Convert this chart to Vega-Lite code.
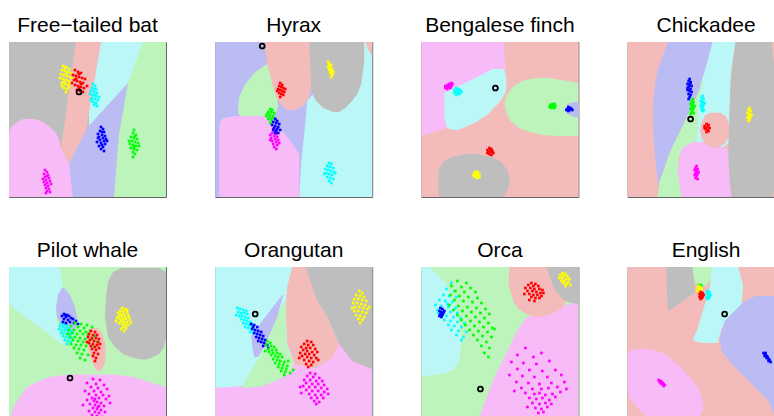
{
"$schema":"https://vega.github.io/schema/vega-lite/v6.json",
"padding":{"left":8,"top":14,"right":0,"bottom":0},
"background":"white",
"bounds":"flush",
"datasets":{"names":[{"p":1,"n":"Free−tailed bat"},{"p":2,"n":"Hyrax"},{"p":3,"n":"Bengalese finch"},{"p":4,"n":"Chickadee"},{"p":5,"n":"Pilot whale"},{"p":6,"n":"Orangutan"},{"p":7,"n":"Orca"},{"p":8,"n":"English"}]},
"data":{"values":[
{"p":1,"t":"b","c":"y"},{"p":2,"t":"b","c":"b"},{"p":3,"t":"b","c":"r"},{"p":4,"t":"b","c":"r"},{"p":5,"t":"b","c":"g"},{"p":6,"t":"b","c":"c"},{"p":7,"t":"b","c":"g"},{"p":8,"t":"b","c":"r"},
{"p":1,"r":"a","c":"c","y":0,"x":80,"x2":150},{"p":1,"r":"a","c":"c","y":100,"x":80,"x2":150},
{"p":1,"r":"b","c":"b","y":41,"x":119,"x2":130},{"p":1,"r":"b","c":"b","y":89,"x":75,"x2":130},{"p":1,"r":"b","c":"b","y":122,"x":58,"x2":130},{"p":1,"r":"b","c":"b","y":155,"x":58,"x2":130},
{"p":1,"r":"c","c":"r","y":0,"x":67,"x2":92},{"p":1,"r":"c","c":"r","y":41,"x":61,"x2":85},{"p":1,"r":"c","c":"r","y":89,"x":54.5,"x2":77},{"p":1,"r":"c","c":"r","y":106,"x":52,"x2":68},{"p":1,"r":"c","c":"r","y":122,"x":60,"x2":60},
{"p":1,"r":"d","c":"m","y":77,"x":14,"x2":26},{"p":1,"r":"d","c":"m","y":80,"x":8,"x2":34},{"p":1,"r":"d","c":"m","y":84,"x":3,"x2":40},{"p":1,"r":"d","c":"m","y":90,"x":0,"x2":46},{"p":1,"r":"d","c":"m","y":97,"x":0,"x2":50},{"p":1,"r":"d","c":"m","y":106,"x":0,"x2":52},{"p":1,"r":"d","c":"m","y":122,"x":0,"x2":60},{"p":1,"r":"d","c":"m","y":140,"x":0,"x2":62},{"p":1,"r":"d","c":"m","y":155,"x":0,"x2":64},
{"p":1,"r":"e","c":"g","y":0,"x":134,"x2":157},{"p":1,"r":"e","c":"g","y":41,"x":119,"x2":157},{"p":1,"r":"e","c":"g","y":92,"x":110,"x2":157},{"p":1,"r":"e","c":"g","y":155,"x":105,"x2":157},
{"p":2,"r":"a","c":"c","y":0,"x":140,"x2":157},{"p":2,"r":"a","c":"c","y":59,"x":92,"x2":157},{"p":2,"r":"a","c":"c","y":92,"x":89,"x2":157},{"p":2,"r":"a","c":"c","y":112,"x":86.7,"x2":157},{"p":2,"r":"a","c":"c","y":155,"x":84,"x2":157},
{"p":2,"r":"b","c":"y","y":0,"x":92,"x2":149},{"p":2,"r":"b","c":"y","y":20,"x":92,"x2":149},{"p":2,"r":"b","c":"y","y":42,"x":94,"x2":146},{"p":2,"r":"b","c":"y","y":52,"x":97,"x2":142},{"p":2,"r":"b","c":"y","y":59,"x":101,"x2":137},{"p":2,"r":"b","c":"y","y":66,"x":108,"x2":130},{"p":2,"r":"b","c":"y","y":70,"x":118,"x2":124},
{"p":2,"r":"c","c":"r","y":0,"x":150,"x2":157},{"p":2,"r":"c","c":"r","y":8,"x":153,"x2":157},{"p":2,"r":"c","c":"r","y":14,"x":157,"x2":157},
{"p":2,"r":"d","c":"g","y":22,"x":52,"x2":53},{"p":2,"r":"d","c":"g","y":30,"x":40,"x2":55},{"p":2,"r":"d","c":"g","y":42,"x":30,"x2":58},{"p":2,"r":"d","c":"g","y":55,"x":24,"x2":62},{"p":2,"r":"d","c":"g","y":65,"x":23,"x2":63},{"p":2,"r":"d","c":"g","y":72,"x":23,"x2":60},{"p":2,"r":"d","c":"g","y":76,"x":28,"x2":55},
{"p":2,"r":"e","c":"r","y":0,"x":49,"x2":94},{"p":2,"r":"e","c":"r","y":22,"x":52,"x2":95},{"p":2,"r":"e","c":"r","y":42,"x":57,"x2":96},{"p":2,"r":"e","c":"r","y":55,"x":61,"x2":94},{"p":2,"r":"e","c":"r","y":63,"x":66,"x2":89},{"p":2,"r":"e","c":"r","y":68,"x":72,"x2":80},
{"p":2,"r":"f","c":"m","y":74,"x":22,"x2":48},{"p":2,"r":"f","c":"m","y":75,"x":12,"x2":55},{"p":2,"r":"f","c":"m","y":77,"x":7,"x2":58},{"p":2,"r":"f","c":"m","y":81,"x":4.5,"x2":62},{"p":2,"r":"f","c":"m","y":90,"x":4,"x2":68},{"p":2,"r":"f","c":"m","y":100,"x":4,"x2":76},{"p":2,"r":"f","c":"m","y":112,"x":4,"x2":84},{"p":2,"r":"f","c":"m","y":155,"x":4,"x2":84},
{"p":3,"r":"a","c":"m","y":0,"x":0,"x2":82},{"p":3,"r":"a","c":"m","y":26,"x":0,"x2":84},{"p":3,"r":"a","c":"m","y":45,"x":0,"x2":75},{"p":3,"r":"a","c":"m","y":60,"x":0,"x2":60},{"p":3,"r":"a","c":"m","y":75,"x":0,"x2":40},{"p":3,"r":"a","c":"m","y":86,"x":0,"x2":25},{"p":3,"r":"a","c":"m","y":94,"x":0,"x2":0},
{"p":3,"r":"b","c":"c","y":27,"x":71,"x2":83},{"p":3,"r":"b","c":"c","y":36,"x":54,"x2":85},{"p":3,"r":"b","c":"c","y":46,"x":33,"x2":85},{"p":3,"r":"b","c":"c","y":51,"x":23,"x2":84},{"p":3,"r":"b","c":"c","y":59,"x":23,"x2":79},{"p":3,"r":"b","c":"c","y":72,"x":23,"x2":67},{"p":3,"r":"b","c":"c","y":80,"x":24,"x2":55},{"p":3,"r":"b","c":"c","y":86,"x":26,"x2":42},{"p":3,"r":"b","c":"c","y":88,"x":32,"x2":36},
{"p":3,"r":"c","c":"g","y":36,"x":115,"x2":128},{"p":3,"r":"c","c":"g","y":38,"x":104,"x2":140},{"p":3,"r":"c","c":"g","y":41,"x":97,"x2":157},{"p":3,"r":"c","c":"g","y":46,"x":90,"x2":157},{"p":3,"r":"c","c":"g","y":53,"x":85.5,"x2":157},{"p":3,"r":"c","c":"g","y":62,"x":83,"x2":157},{"p":3,"r":"c","c":"g","y":71,"x":85,"x2":157},{"p":3,"r":"c","c":"g","y":79,"x":89,"x2":157},{"p":3,"r":"c","c":"g","y":86,"x":98,"x2":157},{"p":3,"r":"c","c":"g","y":90,"x":108,"x2":157},{"p":3,"r":"c","c":"g","y":93,"x":122,"x2":157},{"p":3,"r":"c","c":"g","y":94,"x":135,"x2":157},
{"p":3,"r":"d","c":"b","y":60,"x":152,"x2":157},{"p":3,"r":"d","c":"b","y":62,"x":146,"x2":157},{"p":3,"r":"d","c":"b","y":67,"x":143,"x2":157},{"p":3,"r":"d","c":"b","y":72,"x":146,"x2":157},{"p":3,"r":"d","c":"b","y":75,"x":153,"x2":157},
{"p":3,"r":"e","c":"y","y":112,"x":45,"x2":55},{"p":3,"r":"e","c":"y","y":115,"x":30,"x2":70},{"p":3,"r":"e","c":"y","y":120,"x":22,"x2":80},{"p":3,"r":"e","c":"y","y":128,"x":17,"x2":86},{"p":3,"r":"e","c":"y","y":140,"x":17,"x2":89},{"p":3,"r":"e","c":"y","y":148,"x":17,"x2":86},{"p":3,"r":"e","c":"y","y":155,"x":18,"x2":82},
{"p":4,"r":"a","c":"b","y":0,"x":40.6,"x2":87.3},{"p":4,"r":"a","c":"b","y":26,"x":30.6,"x2":79},{"p":4,"r":"a","c":"b","y":39,"x":28,"x2":75.6},{"p":4,"r":"a","c":"b","y":59,"x":25.6,"x2":67.3},{"p":4,"r":"a","c":"b","y":86,"x":25.6,"x2":54},{"p":4,"r":"a","c":"b","y":116,"x":27.5,"x2":40.6},{"p":4,"r":"a","c":"b","y":139,"x":30,"x2":32.3},{"p":4,"r":"a","c":"b","y":145,"x":31,"x2":31},
{"p":4,"r":"b","c":"c","y":0,"x":85,"x2":108},{"p":4,"r":"b","c":"c","y":26,"x":78,"x2":104},{"p":4,"r":"b","c":"c","y":39,"x":74,"x2":103},{"p":4,"r":"b","c":"c","y":59,"x":69,"x2":102.3},{"p":4,"r":"b","c":"c","y":100,"x":68,"x2":102},{"p":4,"r":"b","c":"c","y":110,"x":68,"x2":90},
{"p":4,"r":"c","c":"g","y":39,"x":75,"x2":76},{"p":4,"r":"c","c":"g","y":59,"x":67,"x2":71},{"p":4,"r":"c","c":"g","y":86,"x":54,"x2":70},{"p":4,"r":"c","c":"g","y":100,"x":47,"x2":69},{"p":4,"r":"c","c":"g","y":109,"x":43,"x2":54},{"p":4,"r":"c","c":"g","y":116,"x":40,"x2":51},{"p":4,"r":"c","c":"g","y":126,"x":37,"x2":51},{"p":4,"r":"c","c":"g","y":139,"x":32,"x2":52},{"p":4,"r":"c","c":"g","y":155,"x":30,"x2":54},
{"p":4,"r":"d","c":"m","y":100,"x":65,"x2":80},{"p":4,"r":"d","c":"m","y":105,"x":56,"x2":95},{"p":4,"r":"d","c":"m","y":110,"x":53,"x2":102},{"p":4,"r":"d","c":"m","y":130,"x":50,"x2":103},{"p":4,"r":"d","c":"m","y":155,"x":54,"x2":104},
{"p":4,"r":"e","c":"r","y":70.7,"x":82,"x2":93},{"p":4,"r":"e","c":"r","y":74,"x":77,"x2":98},{"p":4,"r":"e","c":"r","y":80,"x":74,"x2":101},{"p":4,"r":"e","c":"r","y":88,"x":72.3,"x2":102.3},{"p":4,"r":"e","c":"r","y":96,"x":74,"x2":101},{"p":4,"r":"e","c":"r","y":102,"x":78,"x2":97},{"p":4,"r":"e","c":"r","y":105.7,"x":84,"x2":90},
{"p":4,"r":"f","c":"y","y":0,"x":108,"x2":144},{"p":4,"r":"f","c":"y","y":20,"x":105,"x2":146},{"p":4,"r":"f","c":"y","y":40,"x":103,"x2":150},{"p":4,"r":"f","c":"y","y":59,"x":102.3,"x2":152},{"p":4,"r":"f","c":"y","y":109,"x":100.6,"x2":152},{"p":4,"r":"f","c":"y","y":140,"x":102,"x2":148},{"p":4,"r":"f","c":"y","y":155,"x":104,"x2":145},
{"p":5,"r":"a","c":"c","y":0,"x":0,"x2":50.3},{"p":5,"r":"a","c":"c","y":20,"x":0,"x2":54},{"p":5,"r":"a","c":"c","y":37,"x":0,"x2":48},{"p":5,"r":"a","c":"c","y":45,"x":10,"x2":47},{"p":5,"r":"a","c":"c","y":57,"x":26,"x2":48},{"p":5,"r":"a","c":"c","y":68,"x":41,"x2":52},{"p":5,"r":"a","c":"c","y":79,"x":55,"x2":56},
{"p":5,"r":"b","c":"b","y":20.7,"x":53,"x2":55},{"p":5,"r":"b","c":"b","y":28,"x":49,"x2":61},{"p":5,"r":"b","c":"b","y":40,"x":47,"x2":66},{"p":5,"r":"b","c":"b","y":50,"x":48,"x2":68},{"p":5,"r":"b","c":"b","y":58,"x":52,"x2":68},{"p":5,"r":"b","c":"b","y":65,"x":58,"x2":65},{"p":5,"r":"b","c":"b","y":68,"x":62,"x2":63},
{"p":5,"r":"c","c":"r","y":61,"x":82,"x2":88},{"p":5,"r":"c","c":"r","y":66,"x":79,"x2":93},{"p":5,"r":"c","c":"r","y":75,"x":78,"x2":96},{"p":5,"r":"c","c":"r","y":85,"x":80,"x2":97},{"p":5,"r":"c","c":"r","y":95,"x":83,"x2":96},{"p":5,"r":"c","c":"r","y":101,"x":86,"x2":94},{"p":5,"r":"c","c":"r","y":104,"x":89,"x2":91},
{"p":5,"r":"d","c":"y","y":1,"x":112,"x2":150},{"p":5,"r":"d","c":"y","y":5,"x":104,"x2":157},{"p":5,"r":"d","c":"y","y":15,"x":99,"x2":157},{"p":5,"r":"d","c":"y","y":30,"x":97,"x2":157},{"p":5,"r":"d","c":"y","y":50,"x":96,"x2":157},{"p":5,"r":"d","c":"y","y":70,"x":99,"x2":157},{"p":5,"r":"d","c":"y","y":80,"x":106,"x2":155},{"p":5,"r":"d","c":"y","y":87,"x":114,"x2":150},{"p":5,"r":"d","c":"y","y":91,"x":125,"x2":142},{"p":5,"r":"d","c":"y","y":92.5,"x":132,"x2":136},
{"p":5,"r":"e","c":"m","y":107.5,"x":60,"x2":105},{"p":5,"r":"e","c":"m","y":110,"x":40,"x2":125},{"p":5,"r":"e","c":"m","y":114,"x":30,"x2":137},{"p":5,"r":"e","c":"m","y":120,"x":18,"x2":157},{"p":5,"r":"e","c":"m","y":131,"x":10,"x2":157},{"p":5,"r":"e","c":"m","y":141,"x":4,"x2":157},{"p":5,"r":"e","c":"m","y":155,"x":0,"x2":157},
{"p":6,"r":"a","c":"m","y":75,"x":118,"x2":157},{"p":6,"r":"a","c":"m","y":100,"x":72,"x2":157},{"p":6,"r":"a","c":"m","y":112,"x":45,"x2":157},{"p":6,"r":"a","c":"m","y":119,"x":27,"x2":157},{"p":6,"r":"a","c":"m","y":121,"x":0,"x2":157},{"p":6,"r":"a","c":"m","y":155,"x":0,"x2":157},
{"p":6,"r":"b","c":"g","y":33,"x":70,"x2":71},{"p":6,"r":"b","c":"g","y":50,"x":61,"x2":72},{"p":6,"r":"b","c":"g","y":67,"x":55,"x2":71},{"p":6,"r":"b","c":"g","y":81,"x":50,"x2":72},{"p":6,"r":"b","c":"g","y":97,"x":40,"x2":79},{"p":6,"r":"b","c":"g","y":105,"x":35,"x2":75},{"p":6,"r":"b","c":"g","y":112,"x":31,"x2":65},{"p":6,"r":"b","c":"g","y":119,"x":28,"x2":48},{"p":6,"r":"b","c":"g","y":121,"x":27,"x2":30},
{"p":6,"r":"c","c":"b","y":28,"x":67,"x2":68},{"p":6,"r":"c","c":"b","y":50,"x":50,"x2":62},{"p":6,"r":"c","c":"b","y":69,"x":36,"x2":54},{"p":6,"r":"c","c":"b","y":80,"x":37,"x2":49},{"p":6,"r":"c","c":"b","y":90,"x":39,"x2":43},
{"p":6,"r":"d","c":"r","y":0,"x":77,"x2":91},{"p":6,"r":"d","c":"r","y":20,"x":72,"x2":98},{"p":6,"r":"d","c":"r","y":31,"x":71,"x2":101},{"p":6,"r":"d","c":"r","y":54,"x":71,"x2":114},{"p":6,"r":"d","c":"r","y":77,"x":72,"x2":124},{"p":6,"r":"d","c":"r","y":91,"x":77,"x2":117},{"p":6,"r":"d","c":"r","y":97,"x":79,"x2":107},{"p":6,"r":"d","c":"r","y":101,"x":95,"x2":100},
{"p":6,"r":"e","c":"y","y":0,"x":90.7,"x2":157},{"p":6,"r":"e","c":"y","y":31,"x":100.7,"x2":157},{"p":6,"r":"e","c":"y","y":54,"x":114,"x2":157},{"p":6,"r":"e","c":"y","y":77,"x":124,"x2":157},{"p":6,"r":"e","c":"y","y":94,"x":137,"x2":157},{"p":6,"r":"e","c":"y","y":102.3,"x":157,"x2":157},
{"p":7,"r":"a","c":"c","y":0,"x":0,"x2":8.3},{"p":7,"r":"a","c":"c","y":17,"x":0,"x2":25},{"p":7,"r":"a","c":"c","y":41,"x":0,"x2":35},{"p":7,"r":"a","c":"c","y":71,"x":0,"x2":40},{"p":7,"r":"a","c":"c","y":94,"x":0,"x2":38},{"p":7,"r":"a","c":"c","y":102,"x":0,"x2":33},{"p":7,"r":"a","c":"c","y":106,"x":0,"x2":25},{"p":7,"r":"a","c":"c","y":108,"x":0,"x2":12},{"p":7,"r":"a","c":"c","y":109,"x":0,"x2":3},
{"p":7,"r":"b","c":"m","y":35,"x":155,"x2":157},{"p":7,"r":"b","c":"m","y":42,"x":130,"x2":157},{"p":7,"r":"b","c":"m","y":50,"x":105,"x2":157},{"p":7,"r":"b","c":"m","y":65,"x":95,"x2":157},{"p":7,"r":"b","c":"m","y":80,"x":88,"x2":157},{"p":7,"r":"b","c":"m","y":110,"x":73,"x2":157},{"p":7,"r":"b","c":"m","y":150,"x":58,"x2":157},{"p":7,"r":"b","c":"m","y":155,"x":57,"x2":157},
{"p":7,"r":"c","c":"r","y":0,"x":88,"x2":126},{"p":7,"r":"c","c":"r","y":17,"x":87,"x2":131},{"p":7,"r":"c","c":"r","y":34,"x":92,"x2":145},{"p":7,"r":"c","c":"r","y":42,"x":97,"x2":140},{"p":7,"r":"c","c":"r","y":47,"x":105,"x2":130},{"p":7,"r":"c","c":"r","y":50,"x":115,"x2":120},
{"p":7,"r":"d","c":"y","y":0,"x":125,"x2":157},{"p":7,"r":"d","c":"y","y":20.7,"x":132,"x2":157},{"p":7,"r":"d","c":"y","y":30,"x":139,"x2":157},{"p":7,"r":"d","c":"y","y":35,"x":146,"x2":157},{"p":7,"r":"d","c":"y","y":37,"x":157,"x2":157},
{"p":8,"r":"a","c":"y","y":0,"x":39,"x2":66},{"p":8,"r":"a","c":"y","y":19,"x":39,"x2":67},{"p":8,"r":"a","c":"y","y":26,"x":39.5,"x2":67},{"p":8,"r":"a","c":"y","y":35,"x":40,"x2":54},{"p":8,"r":"a","c":"y","y":44,"x":40.6,"x2":41},
{"p":8,"r":"b","c":"g","y":0,"x":65,"x2":84},{"p":8,"r":"b","c":"g","y":10,"x":66,"x2":83},{"p":8,"r":"b","c":"g","y":16,"x":68,"x2":81},{"p":8,"r":"b","c":"g","y":19,"x":71,"x2":78},
{"p":8,"r":"c","c":"c","y":0,"x":84,"x2":110.6},{"p":8,"r":"c","c":"c","y":19,"x":82.3,"x2":115.6},{"p":8,"r":"c","c":"c","y":37,"x":77.3,"x2":114},{"p":8,"r":"c","c":"c","y":52,"x":72.8,"x2":100.6},{"p":8,"r":"c","c":"c","y":62,"x":70,"x2":94},{"p":8,"r":"c","c":"c","y":72,"x":65.6,"x2":91},{"p":8,"r":"c","c":"c","y":74,"x":66,"x2":91},{"p":8,"r":"c","c":"c","y":76,"x":75,"x2":90},
{"p":8,"r":"d","c":"b","y":29,"x":128,"x2":157},{"p":8,"r":"d","c":"b","y":34,"x":117,"x2":157},{"p":8,"r":"d","c":"b","y":54,"x":97,"x2":157},{"p":8,"r":"d","c":"b","y":71,"x":92,"x2":157},{"p":8,"r":"d","c":"b","y":84,"x":94,"x2":157},{"p":8,"r":"d","c":"b","y":97,"x":104,"x2":157},{"p":8,"r":"d","c":"b","y":114,"x":121,"x2":157},{"p":8,"r":"d","c":"b","y":134,"x":141,"x2":157},{"p":8,"r":"d","c":"b","y":150,"x":147,"x2":157},{"p":8,"r":"d","c":"b","y":155,"x":150,"x2":157},
{"p":8,"r":"e","c":"m","y":82,"x":5,"x2":20},{"p":8,"r":"e","c":"m","y":86,"x":0,"x2":36},{"p":8,"r":"e","c":"m","y":100,"x":0,"x2":53},{"p":8,"r":"e","c":"m","y":120,"x":0,"x2":70},{"p":8,"r":"e","c":"m","y":131,"x":2,"x2":74},{"p":8,"r":"e","c":"m","y":141,"x":10,"x2":76},{"p":8,"r":"e","c":"m","y":150,"x":20,"x2":72},{"p":8,"r":"e","c":"m","y":155,"x":28,"x2":70},

{"p":1,"c":"y","x":54,"y":24},{"p":1,"c":"y","x":57,"y":25},{"p":1,"c":"y","x":60,"y":27},{"p":1,"c":"y","x":53,"y":28},{"p":1,"c":"y","x":56,"y":29},{"p":1,"c":"y","x":59,"y":30},{"p":1,"c":"y","x":62,"y":31},{"p":1,"c":"y","x":52,"y":32},{"p":1,"c":"y","x":55,"y":33},{"p":1,"c":"y","x":58,"y":34},{"p":1,"c":"y","x":61,"y":35},{"p":1,"c":"y","x":54,"y":37},{"p":1,"c":"y","x":57,"y":38},{"p":1,"c":"y","x":60,"y":39},{"p":1,"c":"y","x":53,"y":41},{"p":1,"c":"y","x":56,"y":42},{"p":1,"c":"y","x":59,"y":43},{"p":1,"c":"y","x":55,"y":46},{"p":1,"c":"y","x":58,"y":47},{"p":1,"c":"y","x":57,"y":50},{"p":1,"c":"y","x":63,"y":36},{"p":1,"c":"y","x":51,"y":36},{"p":1,"c":"y","x":56,"y":26},{"p":1,"c":"y","x":60,"y":45},{"p":1,"c":"y","x":55,"y":40},{"p":1,"c":"y","x":58,"y":31},{"p":1,"c":"y","x":61,"y":41},{"p":1,"c":"y","x":53,"y":44},
{"p":1,"c":"r","x":66,"y":28},{"p":1,"c":"r","x":69,"y":30},{"p":1,"c":"r","x":72,"y":31},{"p":1,"c":"r","x":64,"y":33},{"p":1,"c":"r","x":67,"y":34},{"p":1,"c":"r","x":70,"y":35},{"p":1,"c":"r","x":73,"y":36},{"p":1,"c":"r","x":76,"y":37},{"p":1,"c":"r","x":65,"y":38},{"p":1,"c":"r","x":68,"y":39},{"p":1,"c":"r","x":71,"y":40},{"p":1,"c":"r","x":74,"y":41},{"p":1,"c":"r","x":66,"y":43},{"p":1,"c":"r","x":69,"y":44},{"p":1,"c":"r","x":72,"y":45},{"p":1,"c":"r","x":75,"y":46},{"p":1,"c":"r","x":68,"y":48},{"p":1,"c":"r","x":71,"y":49},{"p":1,"c":"r","x":74,"y":50},{"p":1,"c":"r","x":78,"y":44},{"p":1,"c":"r","x":63,"y":41},{"p":1,"c":"r","x":70,"y":32},{"p":1,"c":"r","x":67,"y":37},{"p":1,"c":"r","x":72,"y":42},{"p":1,"c":"r","x":70,"y":46},
{"p":1,"c":"c","x":84,"y":42},{"p":1,"c":"c","x":86,"y":44},{"p":1,"c":"c","x":83,"y":46},{"p":1,"c":"c","x":87,"y":47},{"p":1,"c":"c","x":82,"y":49},{"p":1,"c":"c","x":85,"y":50},{"p":1,"c":"c","x":88,"y":51},{"p":1,"c":"c","x":81,"y":52},{"p":1,"c":"c","x":84,"y":53},{"p":1,"c":"c","x":87,"y":54},{"p":1,"c":"c","x":90,"y":55},{"p":1,"c":"c","x":83,"y":56},{"p":1,"c":"c","x":86,"y":57},{"p":1,"c":"c","x":89,"y":58},{"p":1,"c":"c","x":84,"y":60},{"p":1,"c":"c","x":87,"y":61},{"p":1,"c":"c","x":85,"y":63},{"p":1,"c":"c","x":88,"y":64},{"p":1,"c":"c","x":82,"y":58},{"p":1,"c":"c","x":85,"y":47},{"p":1,"c":"c","x":86,"y":53},
{"p":1,"c":"b","x":92,"y":85},{"p":1,"c":"b","x":94,"y":87},{"p":1,"c":"b","x":91,"y":89},{"p":1,"c":"b","x":95,"y":90},{"p":1,"c":"b","x":89,"y":92},{"p":1,"c":"b","x":93,"y":93},{"p":1,"c":"b","x":96,"y":94},{"p":1,"c":"b","x":90,"y":95},{"p":1,"c":"b","x":94,"y":96},{"p":1,"c":"b","x":97,"y":97},{"p":1,"c":"b","x":91,"y":98},{"p":1,"c":"b","x":95,"y":99},{"p":1,"c":"b","x":88,"y":100},{"p":1,"c":"b","x":92,"y":101},{"p":1,"c":"b","x":96,"y":102},{"p":1,"c":"b","x":90,"y":104},{"p":1,"c":"b","x":94,"y":105},{"p":1,"c":"b","x":92,"y":107},{"p":1,"c":"b","x":95,"y":109},{"p":1,"c":"b","x":98,"y":99},{"p":1,"c":"b","x":89,"y":96},{"p":1,"c":"b","x":93,"y":90},{"p":1,"c":"b","x":93,"y":103},
{"p":1,"c":"g","x":125,"y":88},{"p":1,"c":"g","x":124,"y":91},{"p":1,"c":"g","x":127,"y":93},{"p":1,"c":"g","x":122,"y":95},{"p":1,"c":"g","x":125,"y":96},{"p":1,"c":"g","x":128,"y":97},{"p":1,"c":"g","x":123,"y":99},{"p":1,"c":"g","x":126,"y":100},{"p":1,"c":"g","x":129,"y":101},{"p":1,"c":"g","x":121,"y":102},{"p":1,"c":"g","x":124,"y":103},{"p":1,"c":"g","x":127,"y":104},{"p":1,"c":"g","x":122,"y":106},{"p":1,"c":"g","x":125,"y":107},{"p":1,"c":"g","x":128,"y":108},{"p":1,"c":"g","x":124,"y":110},{"p":1,"c":"g","x":126,"y":112},{"p":1,"c":"g","x":124,"y":115},{"p":1,"c":"g","x":130,"y":104},{"p":1,"c":"g","x":120,"y":99},{"p":1,"c":"g","x":126,"y":94},{"p":1,"c":"g","x":125,"y":105},
{"p":1,"c":"m","x":36,"y":128},{"p":1,"c":"m","x":38,"y":130},{"p":1,"c":"m","x":35,"y":132},{"p":1,"c":"m","x":39,"y":133},{"p":1,"c":"m","x":36,"y":135},{"p":1,"c":"m","x":40,"y":136},{"p":1,"c":"m","x":34,"y":137},{"p":1,"c":"m","x":37,"y":138},{"p":1,"c":"m","x":41,"y":139},{"p":1,"c":"m","x":35,"y":140},{"p":1,"c":"m","x":38,"y":141},{"p":1,"c":"m","x":42,"y":142},{"p":1,"c":"m","x":36,"y":143},{"p":1,"c":"m","x":39,"y":144},{"p":1,"c":"m","x":37,"y":146},{"p":1,"c":"m","x":40,"y":147},{"p":1,"c":"m","x":38,"y":149},{"p":1,"c":"m","x":41,"y":150},{"p":1,"c":"m","x":37,"y":151},{"p":1,"c":"m","x":38,"y":134},
{"p":2,"c":"y","x":113,"y":20},{"p":2,"c":"y","x":114,"y":22},{"p":2,"c":"y","x":116,"y":23},{"p":2,"c":"y","x":113,"y":25},{"p":2,"c":"y","x":115,"y":26},{"p":2,"c":"y","x":117,"y":27},{"p":2,"c":"y","x":114,"y":28},{"p":2,"c":"y","x":116,"y":29},{"p":2,"c":"y","x":118,"y":30},{"p":2,"c":"y","x":115,"y":31},{"p":2,"c":"y","x":117,"y":33},{"p":2,"c":"y","x":116,"y":35},{"p":2,"c":"y","x":114,"y":24},{"p":2,"c":"y","x":117,"y":31},
{"p":2,"c":"r","x":65,"y":41},{"p":2,"c":"r","x":67,"y":43},{"p":2,"c":"r","x":64,"y":44},{"p":2,"c":"r","x":66,"y":45},{"p":2,"c":"r","x":68,"y":46},{"p":2,"c":"r","x":63,"y":47},{"p":2,"c":"r","x":65,"y":48},{"p":2,"c":"r","x":67,"y":49},{"p":2,"c":"r","x":69,"y":50},{"p":2,"c":"r","x":64,"y":51},{"p":2,"c":"r","x":66,"y":52},{"p":2,"c":"r","x":68,"y":53},{"p":2,"c":"r","x":65,"y":55},{"p":2,"c":"r","x":70,"y":47},{"p":2,"c":"r","x":62,"y":49},
{"p":2,"c":"g","x":55,"y":67},{"p":2,"c":"g","x":57,"y":68},{"p":2,"c":"g","x":53,"y":70},{"p":2,"c":"g","x":56,"y":70},{"p":2,"c":"g","x":59,"y":71},{"p":2,"c":"g","x":52,"y":72},{"p":2,"c":"g","x":55,"y":73},{"p":2,"c":"g","x":58,"y":74},{"p":2,"c":"g","x":54,"y":75},{"p":2,"c":"g","x":57,"y":76},{"p":2,"c":"g","x":60,"y":77},{"p":2,"c":"g","x":53,"y":77},{"p":2,"c":"g","x":56,"y":78},{"p":2,"c":"g","x":58,"y":80},{"p":2,"c":"g","x":55,"y":81},{"p":2,"c":"g","x":51,"y":74},
{"p":2,"c":"m","x":58,"y":87},{"p":2,"c":"m","x":60,"y":89},{"p":2,"c":"m","x":57,"y":91},{"p":2,"c":"m","x":61,"y":92},{"p":2,"c":"m","x":55,"y":93},{"p":2,"c":"m","x":59,"y":94},{"p":2,"c":"m","x":62,"y":95},{"p":2,"c":"m","x":56,"y":96},{"p":2,"c":"m","x":60,"y":97},{"p":2,"c":"m","x":63,"y":98},{"p":2,"c":"m","x":57,"y":99},{"p":2,"c":"m","x":61,"y":100},{"p":2,"c":"m","x":58,"y":102},{"p":2,"c":"m","x":62,"y":103},{"p":2,"c":"m","x":59,"y":105},{"p":2,"c":"m","x":61,"y":107},{"p":2,"c":"m","x":64,"y":101},{"p":2,"c":"m","x":55,"y":98},
{"p":2,"c":"b","x":60,"y":77},{"p":2,"c":"b","x":62,"y":79},{"p":2,"c":"b","x":58,"y":80},{"p":2,"c":"b","x":61,"y":81},{"p":2,"c":"b","x":64,"y":82},{"p":2,"c":"b","x":57,"y":83},{"p":2,"c":"b","x":60,"y":84},{"p":2,"c":"b","x":63,"y":85},{"p":2,"c":"b","x":59,"y":86},{"p":2,"c":"b","x":62,"y":87},{"p":2,"c":"b","x":65,"y":88},{"p":2,"c":"b","x":58,"y":88},{"p":2,"c":"b","x":61,"y":89},{"p":2,"c":"b","x":63,"y":91},{"p":2,"c":"b","x":60,"y":91},
{"p":2,"c":"c","x":114,"y":121},{"p":2,"c":"c","x":116,"y":122},{"p":2,"c":"c","x":112,"y":124},{"p":2,"c":"c","x":115,"y":125},{"p":2,"c":"c","x":118,"y":126},{"p":2,"c":"c","x":110,"y":127},{"p":2,"c":"c","x":113,"y":128},{"p":2,"c":"c","x":116,"y":129},{"p":2,"c":"c","x":119,"y":130},{"p":2,"c":"c","x":111,"y":131},{"p":2,"c":"c","x":114,"y":132},{"p":2,"c":"c","x":117,"y":133},{"p":2,"c":"c","x":120,"y":131},{"p":2,"c":"c","x":112,"y":135},{"p":2,"c":"c","x":115,"y":136},{"p":2,"c":"c","x":118,"y":137},{"p":2,"c":"c","x":114,"y":139},{"p":2,"c":"c","x":116,"y":141},{"p":2,"c":"c","x":109,"y":132},
{"p":3,"c":"m","x":30,"y":41},{"p":3,"c":"m","x":28,"y":42},{"p":3,"c":"m","x":31,"y":42},{"p":3,"c":"m","x":26,"y":43},{"p":3,"c":"m","x":29,"y":43},{"p":3,"c":"m","x":24,"y":44},{"p":3,"c":"m","x":27,"y":44},{"p":3,"c":"m","x":30,"y":44},{"p":3,"c":"m","x":25,"y":45},{"p":3,"c":"m","x":28,"y":45},{"p":3,"c":"m","x":24,"y":46},{"p":3,"c":"m","x":26,"y":47},{"p":3,"c":"m","x":29,"y":46},
{"p":3,"c":"c","x":35,"y":46},{"p":3,"c":"c","x":37,"y":47},{"p":3,"c":"c","x":33,"y":48},{"p":3,"c":"c","x":36,"y":48},{"p":3,"c":"c","x":39,"y":48},{"p":3,"c":"c","x":34,"y":50},{"p":3,"c":"c","x":37,"y":50},{"p":3,"c":"c","x":40,"y":50},{"p":3,"c":"c","x":33,"y":51},{"p":3,"c":"c","x":36,"y":51},{"p":3,"c":"c","x":38,"y":52},{"p":3,"c":"c","x":35,"y":53},
{"p":3,"c":"g","x":131,"y":62},{"p":3,"c":"g","x":133,"y":62},{"p":3,"c":"g","x":129,"y":63},{"p":3,"c":"g","x":132,"y":63},{"p":3,"c":"g","x":134,"y":64},{"p":3,"c":"g","x":130,"y":64},{"p":3,"c":"g","x":128,"y":65},{"p":3,"c":"g","x":131,"y":65},{"p":3,"c":"g","x":133,"y":66},{"p":3,"c":"g","x":130,"y":66},
{"p":3,"c":"b","x":147,"y":65},{"p":3,"c":"b","x":149,"y":66},{"p":3,"c":"b","x":146,"y":67},{"p":3,"c":"b","x":148,"y":67},{"p":3,"c":"b","x":150,"y":67},{"p":3,"c":"b","x":145,"y":68},{"p":3,"c":"b","x":148,"y":68},{"p":3,"c":"b","x":151,"y":68},{"p":3,"c":"b","x":147,"y":69},
{"p":3,"c":"r","x":68,"y":106},{"p":3,"c":"r","x":70,"y":107},{"p":3,"c":"r","x":66,"y":108},{"p":3,"c":"r","x":69,"y":108},{"p":3,"c":"r","x":71,"y":109},{"p":3,"c":"r","x":67,"y":110},{"p":3,"c":"r","x":70,"y":110},{"p":3,"c":"r","x":72,"y":111},{"p":3,"c":"r","x":68,"y":112},{"p":3,"c":"r","x":66,"y":111},{"p":3,"c":"r","x":70,"y":113},
{"p":3,"c":"y","x":54,"y":130},{"p":3,"c":"y","x":56,"y":130},{"p":3,"c":"y","x":53,"y":131},{"p":3,"c":"y","x":55,"y":132},{"p":3,"c":"y","x":58,"y":132},{"p":3,"c":"y","x":52,"y":133},{"p":3,"c":"y","x":55,"y":133},{"p":3,"c":"y","x":57,"y":134},{"p":3,"c":"y","x":54,"y":135},{"p":3,"c":"y","x":56,"y":136},{"p":3,"c":"y","x":53,"y":134},{"p":3,"c":"y","x":58,"y":135},
{"p":4,"c":"b","x":62,"y":37},{"p":4,"c":"b","x":61,"y":39},{"p":4,"c":"b","x":63,"y":40},{"p":4,"c":"b","x":60,"y":42},{"p":4,"c":"b","x":62,"y":43},{"p":4,"c":"b","x":64,"y":44},{"p":4,"c":"b","x":61,"y":45},{"p":4,"c":"b","x":63,"y":47},{"p":4,"c":"b","x":60,"y":48},{"p":4,"c":"b","x":62,"y":49},{"p":4,"c":"b","x":64,"y":50},{"p":4,"c":"b","x":61,"y":52},{"p":4,"c":"b","x":63,"y":53},{"p":4,"c":"b","x":62,"y":55},{"p":4,"c":"b","x":61,"y":57},{"p":4,"c":"b","x":63,"y":41},{"p":4,"c":"b","x":60,"y":46},
{"p":4,"c":"g","x":65,"y":57},{"p":4,"c":"g","x":64,"y":59},{"p":4,"c":"g","x":66,"y":60},{"p":4,"c":"g","x":63,"y":62},{"p":4,"c":"g","x":65,"y":63},{"p":4,"c":"g","x":67,"y":64},{"p":4,"c":"g","x":64,"y":65},{"p":4,"c":"g","x":66,"y":66},{"p":4,"c":"g","x":63,"y":67},{"p":4,"c":"g","x":65,"y":68},{"p":4,"c":"g","x":64,"y":70},{"p":4,"c":"g","x":66,"y":71},{"p":4,"c":"g","x":63,"y":72},{"p":4,"c":"g","x":65,"y":61},
{"p":4,"c":"c","x":75,"y":54},{"p":4,"c":"c","x":74,"y":56},{"p":4,"c":"c","x":76,"y":57},{"p":4,"c":"c","x":73,"y":59},{"p":4,"c":"c","x":75,"y":60},{"p":4,"c":"c","x":77,"y":61},{"p":4,"c":"c","x":74,"y":62},{"p":4,"c":"c","x":76,"y":63},{"p":4,"c":"c","x":73,"y":64},{"p":4,"c":"c","x":75,"y":65},{"p":4,"c":"c","x":74,"y":67},{"p":4,"c":"c","x":76,"y":68},{"p":4,"c":"c","x":75,"y":69},
{"p":4,"c":"r","x":79,"y":82},{"p":4,"c":"r","x":81,"y":83},{"p":4,"c":"r","x":77,"y":84},{"p":4,"c":"r","x":80,"y":85},{"p":4,"c":"r","x":82,"y":86},{"p":4,"c":"r","x":78,"y":87},{"p":4,"c":"r","x":80,"y":88},{"p":4,"c":"r","x":79,"y":90},{"p":4,"c":"r","x":81,"y":89},{"p":4,"c":"r","x":77,"y":86},
{"p":4,"c":"y","x":122,"y":66},{"p":4,"c":"y","x":121,"y":68},{"p":4,"c":"y","x":123,"y":69},{"p":4,"c":"y","x":120,"y":71},{"p":4,"c":"y","x":122,"y":72},{"p":4,"c":"y","x":124,"y":73},{"p":4,"c":"y","x":121,"y":74},{"p":4,"c":"y","x":123,"y":75},{"p":4,"c":"y","x":120,"y":76},{"p":4,"c":"y","x":122,"y":77},{"p":4,"c":"y","x":121,"y":79},
{"p":4,"c":"m","x":69,"y":124},{"p":4,"c":"m","x":68,"y":126},{"p":4,"c":"m","x":70,"y":127},{"p":4,"c":"m","x":67,"y":128},{"p":4,"c":"m","x":69,"y":129},{"p":4,"c":"m","x":71,"y":130},{"p":4,"c":"m","x":68,"y":131},{"p":4,"c":"m","x":70,"y":132},{"p":4,"c":"m","x":67,"y":133},{"p":4,"c":"m","x":69,"y":134},{"p":4,"c":"m","x":68,"y":136},{"p":4,"c":"m","x":70,"y":137},
{"p":5,"c":"y","x":113,"y":41},{"p":5,"c":"y","x":116,"y":42},{"p":5,"c":"y","x":111,"y":44},{"p":5,"c":"y","x":114,"y":44},{"p":5,"c":"y","x":118,"y":45},{"p":5,"c":"y","x":109,"y":46},{"p":5,"c":"y","x":112,"y":47},{"p":5,"c":"y","x":115,"y":47},{"p":5,"c":"y","x":119,"y":48},{"p":5,"c":"y","x":110,"y":49},{"p":5,"c":"y","x":113,"y":49},{"p":5,"c":"y","x":116,"y":50},{"p":5,"c":"y","x":120,"y":50},{"p":5,"c":"y","x":108,"y":51},{"p":5,"c":"y","x":111,"y":52},{"p":5,"c":"y","x":114,"y":52},{"p":5,"c":"y","x":117,"y":52},{"p":5,"c":"y","x":121,"y":53},{"p":5,"c":"y","x":112,"y":54},{"p":5,"c":"y","x":115,"y":55},{"p":5,"c":"y","x":118,"y":55},{"p":5,"c":"y","x":110,"y":56},{"p":5,"c":"y","x":113,"y":57},{"p":5,"c":"y","x":116,"y":58},{"p":5,"c":"y","x":119,"y":58},{"p":5,"c":"y","x":114,"y":60},{"p":5,"c":"y","x":117,"y":61},{"p":5,"c":"y","x":112,"y":62},{"p":5,"c":"y","x":115,"y":64},{"p":5,"c":"y","x":122,"y":56},{"p":5,"c":"y","x":107,"y":54},{"p":5,"c":"y","x":118,"y":43},
{"p":5,"c":"c","x":52,"y":56},{"p":5,"c":"c","x":55,"y":57},{"p":5,"c":"c","x":58,"y":58},{"p":5,"c":"c","x":51,"y":59},{"p":5,"c":"c","x":54,"y":60},{"p":5,"c":"c","x":57,"y":61},{"p":5,"c":"c","x":60,"y":61},{"p":5,"c":"c","x":53,"y":63},{"p":5,"c":"c","x":56,"y":63},{"p":5,"c":"c","x":59,"y":64},{"p":5,"c":"c","x":62,"y":64},{"p":5,"c":"c","x":52,"y":66},{"p":5,"c":"c","x":55,"y":66},{"p":5,"c":"c","x":58,"y":67},{"p":5,"c":"c","x":61,"y":68},{"p":5,"c":"c","x":54,"y":69},{"p":5,"c":"c","x":57,"y":70},{"p":5,"c":"c","x":60,"y":71},{"p":5,"c":"c","x":56,"y":73},{"p":5,"c":"c","x":59,"y":74},{"p":5,"c":"c","x":62,"y":75},{"p":5,"c":"c","x":58,"y":77},{"p":5,"c":"c","x":64,"y":66},{"p":5,"c":"c","x":50,"y":62},{"p":5,"c":"c","x":63,"y":71},
{"p":5,"c":"b","x":55,"y":47},{"p":5,"c":"b","x":58,"y":48},{"p":5,"c":"b","x":53,"y":49},{"p":5,"c":"b","x":57,"y":50},{"p":5,"c":"b","x":60,"y":49},{"p":5,"c":"b","x":62,"y":51},{"p":5,"c":"b","x":55,"y":52},{"p":5,"c":"b","x":59,"y":53},{"p":5,"c":"b","x":64,"y":52},{"p":5,"c":"b","x":67,"y":54},{"p":5,"c":"b","x":54,"y":55},{"p":5,"c":"b","x":61,"y":55},{"p":5,"c":"b","x":57,"y":56},{"p":5,"c":"b","x":69,"y":57},{"p":5,"c":"b","x":65,"y":56},{"p":5,"c":"b","x":56,"y":48},
{"p":5,"c":"g","x":66,"y":56},{"p":5,"c":"g","x":72,"y":57},{"p":5,"c":"g","x":78,"y":58},{"p":5,"c":"g","x":62,"y":59},{"p":5,"c":"g","x":69,"y":60},{"p":5,"c":"g","x":75,"y":61},{"p":5,"c":"g","x":83,"y":60},{"p":5,"c":"g","x":60,"y":63},{"p":5,"c":"g","x":65,"y":63},{"p":5,"c":"g","x":71,"y":64},{"p":5,"c":"g","x":77,"y":65},{"p":5,"c":"g","x":81,"y":64},{"p":5,"c":"g","x":63,"y":66},{"p":5,"c":"g","x":68,"y":67},{"p":5,"c":"g","x":74,"y":67},{"p":5,"c":"g","x":79,"y":68},{"p":5,"c":"g","x":86,"y":69},{"p":5,"c":"g","x":61,"y":70},{"p":5,"c":"g","x":66,"y":70},{"p":5,"c":"g","x":71,"y":71},{"p":5,"c":"g","x":76,"y":72},{"p":5,"c":"g","x":83,"y":72},{"p":5,"c":"g","x":64,"y":73},{"p":5,"c":"g","x":69,"y":74},{"p":5,"c":"g","x":74,"y":75},{"p":5,"c":"g","x":80,"y":76},{"p":5,"c":"g","x":62,"y":77},{"p":5,"c":"g","x":67,"y":78},{"p":5,"c":"g","x":72,"y":78},{"p":5,"c":"g","x":77,"y":79},{"p":5,"c":"g","x":85,"y":80},{"p":5,"c":"g","x":65,"y":81},{"p":5,"c":"g","x":70,"y":82},{"p":5,"c":"g","x":75,"y":83},{"p":5,"c":"g","x":68,"y":86},{"p":5,"c":"g","x":73,"y":87},{"p":5,"c":"g","x":79,"y":88},{"p":5,"c":"g","x":71,"y":91},{"p":5,"c":"g","x":76,"y":93},{"p":5,"c":"g","x":88,"y":75},{"p":5,"c":"g","x":59,"y":67},
{"p":5,"c":"r","x":82,"y":64},{"p":5,"c":"r","x":86,"y":65},{"p":5,"c":"r","x":80,"y":67},{"p":5,"c":"r","x":84,"y":68},{"p":5,"c":"r","x":88,"y":68},{"p":5,"c":"r","x":79,"y":70},{"p":5,"c":"r","x":83,"y":71},{"p":5,"c":"r","x":87,"y":71},{"p":5,"c":"r","x":90,"y":72},{"p":5,"c":"r","x":81,"y":73},{"p":5,"c":"r","x":85,"y":74},{"p":5,"c":"r","x":89,"y":75},{"p":5,"c":"r","x":80,"y":76},{"p":5,"c":"r","x":84,"y":77},{"p":5,"c":"r","x":88,"y":78},{"p":5,"c":"r","x":82,"y":79},{"p":5,"c":"r","x":86,"y":80},{"p":5,"c":"r","x":90,"y":81},{"p":5,"c":"r","x":83,"y":82},{"p":5,"c":"r","x":87,"y":83},{"p":5,"c":"r","x":85,"y":86},{"p":5,"c":"r","x":89,"y":87},{"p":5,"c":"r","x":84,"y":89},{"p":5,"c":"r","x":87,"y":91},{"p":5,"c":"r","x":86,"y":94},{"p":5,"c":"r","x":78,"y":75},{"p":5,"c":"r","x":91,"y":77},
{"p":5,"c":"m","x":84,"y":112},{"p":5,"c":"m","x":91,"y":113},{"p":5,"c":"m","x":78,"y":116},{"p":5,"c":"m","x":87,"y":117},{"p":5,"c":"m","x":95,"y":118},{"p":5,"c":"m","x":82,"y":120},{"p":5,"c":"m","x":89,"y":121},{"p":5,"c":"m","x":98,"y":122},{"p":5,"c":"m","x":76,"y":124},{"p":5,"c":"m","x":85,"y":124},{"p":5,"c":"m","x":92,"y":125},{"p":5,"c":"m","x":80,"y":127},{"p":5,"c":"m","x":87,"y":128},{"p":5,"c":"m","x":94,"y":128},{"p":5,"c":"m","x":100,"y":129},{"p":5,"c":"m","x":83,"y":131},{"p":5,"c":"m","x":90,"y":131},{"p":5,"c":"m","x":97,"y":132},{"p":5,"c":"m","x":78,"y":133},{"p":5,"c":"m","x":85,"y":134},{"p":5,"c":"m","x":88,"y":135},{"p":5,"c":"m","x":92,"y":136},{"p":5,"c":"m","x":81,"y":137},{"p":5,"c":"m","x":86,"y":138},{"p":5,"c":"m","x":90,"y":139},{"p":5,"c":"m","x":95,"y":139},{"p":5,"c":"m","x":84,"y":141},{"p":5,"c":"m","x":88,"y":142},{"p":5,"c":"m","x":92,"y":143},{"p":5,"c":"m","x":80,"y":144},{"p":5,"c":"m","x":86,"y":145},{"p":5,"c":"m","x":90,"y":146},{"p":5,"c":"m","x":96,"y":145},{"p":5,"c":"m","x":83,"y":148},{"p":5,"c":"m","x":88,"y":149},{"p":5,"c":"m","x":93,"y":150},{"p":5,"c":"m","x":74,"y":138},{"p":5,"c":"m","x":101,"y":136},{"p":5,"c":"m","x":86,"y":132},{"p":5,"c":"m","x":89,"y":140},
{"p":6,"c":"c","x":22,"y":41},{"p":6,"c":"c","x":25,"y":42},{"p":6,"c":"c","x":28,"y":43},{"p":6,"c":"c","x":23,"y":45},{"p":6,"c":"c","x":26,"y":46},{"p":6,"c":"c","x":29,"y":46},{"p":6,"c":"c","x":32,"y":47},{"p":6,"c":"c","x":24,"y":49},{"p":6,"c":"c","x":27,"y":49},{"p":6,"c":"c","x":30,"y":50},{"p":6,"c":"c","x":33,"y":51},{"p":6,"c":"c","x":26,"y":52},{"p":6,"c":"c","x":29,"y":53},{"p":6,"c":"c","x":32,"y":54},{"p":6,"c":"c","x":35,"y":55},{"p":6,"c":"c","x":28,"y":56},{"p":6,"c":"c","x":31,"y":57},{"p":6,"c":"c","x":34,"y":58},{"p":6,"c":"c","x":37,"y":59},{"p":6,"c":"c","x":30,"y":60},{"p":6,"c":"c","x":33,"y":61},{"p":6,"c":"c","x":36,"y":62},{"p":6,"c":"c","x":39,"y":63},{"p":6,"c":"c","x":35,"y":65},{"p":6,"c":"c","x":38,"y":66},{"p":6,"c":"c","x":21,"y":48},{"p":6,"c":"c","x":31,"y":44},
{"p":6,"c":"b","x":36,"y":57},{"p":6,"c":"b","x":39,"y":58},{"p":6,"c":"b","x":42,"y":60},{"p":6,"c":"b","x":37,"y":62},{"p":6,"c":"b","x":40,"y":63},{"p":6,"c":"b","x":43,"y":64},{"p":6,"c":"b","x":46,"y":65},{"p":6,"c":"b","x":39,"y":66},{"p":6,"c":"b","x":42,"y":67},{"p":6,"c":"b","x":45,"y":68},{"p":6,"c":"b","x":48,"y":69},{"p":6,"c":"b","x":41,"y":70},{"p":6,"c":"b","x":44,"y":71},{"p":6,"c":"b","x":47,"y":72},{"p":6,"c":"b","x":50,"y":73},{"p":6,"c":"b","x":43,"y":74},{"p":6,"c":"b","x":46,"y":75},{"p":6,"c":"b","x":49,"y":76},{"p":6,"c":"b","x":52,"y":78},{"p":6,"c":"b","x":48,"y":79},{"p":6,"c":"b","x":53,"y":81},{"p":6,"c":"b","x":38,"y":60},
{"p":6,"c":"g","x":52,"y":74},{"p":6,"c":"g","x":55,"y":76},{"p":6,"c":"g","x":51,"y":78},{"p":6,"c":"g","x":56,"y":79},{"p":6,"c":"g","x":59,"y":80},{"p":6,"c":"g","x":53,"y":82},{"p":6,"c":"g","x":57,"y":83},{"p":6,"c":"g","x":61,"y":83},{"p":6,"c":"g","x":54,"y":85},{"p":6,"c":"g","x":58,"y":86},{"p":6,"c":"g","x":62,"y":86},{"p":6,"c":"g","x":65,"y":87},{"p":6,"c":"g","x":56,"y":88},{"p":6,"c":"g","x":60,"y":89},{"p":6,"c":"g","x":63,"y":90},{"p":6,"c":"g","x":67,"y":90},{"p":6,"c":"g","x":58,"y":92},{"p":6,"c":"g","x":62,"y":93},{"p":6,"c":"g","x":65,"y":94},{"p":6,"c":"g","x":69,"y":95},{"p":6,"c":"g","x":60,"y":96},{"p":6,"c":"g","x":64,"y":97},{"p":6,"c":"g","x":68,"y":98},{"p":6,"c":"g","x":72,"y":99},{"p":6,"c":"g","x":63,"y":100},{"p":6,"c":"g","x":67,"y":101},{"p":6,"c":"g","x":71,"y":102},{"p":6,"c":"g","x":66,"y":104},{"p":6,"c":"g","x":70,"y":105},{"p":6,"c":"g","x":75,"y":106},{"p":6,"c":"g","x":69,"y":108},{"p":6,"c":"g","x":78,"y":103},{"p":6,"c":"g","x":50,"y":84},{"p":6,"c":"g","x":73,"y":94},
{"p":6,"c":"r","x":92,"y":74},{"p":6,"c":"r","x":96,"y":75},{"p":6,"c":"r","x":89,"y":77},{"p":6,"c":"r","x":93,"y":78},{"p":6,"c":"r","x":98,"y":78},{"p":6,"c":"r","x":86,"y":80},{"p":6,"c":"r","x":91,"y":81},{"p":6,"c":"r","x":95,"y":81},{"p":6,"c":"r","x":100,"y":82},{"p":6,"c":"r","x":88,"y":83},{"p":6,"c":"r","x":92,"y":84},{"p":6,"c":"r","x":97,"y":85},{"p":6,"c":"r","x":102,"y":85},{"p":6,"c":"r","x":85,"y":86},{"p":6,"c":"r","x":90,"y":87},{"p":6,"c":"r","x":94,"y":87},{"p":6,"c":"r","x":99,"y":88},{"p":6,"c":"r","x":87,"y":89},{"p":6,"c":"r","x":92,"y":90},{"p":6,"c":"r","x":96,"y":91},{"p":6,"c":"r","x":101,"y":91},{"p":6,"c":"r","x":89,"y":93},{"p":6,"c":"r","x":94,"y":94},{"p":6,"c":"r","x":98,"y":95},{"p":6,"c":"r","x":91,"y":97},{"p":6,"c":"r","x":96,"y":98},{"p":6,"c":"r","x":93,"y":100},{"p":6,"c":"r","x":103,"y":93},{"p":6,"c":"r","x":84,"y":91},
{"p":6,"c":"m","x":95,"y":106},{"p":6,"c":"m","x":100,"y":107},{"p":6,"c":"m","x":92,"y":109},{"p":6,"c":"m","x":98,"y":110},{"p":6,"c":"m","x":104,"y":111},{"p":6,"c":"m","x":89,"y":113},{"p":6,"c":"m","x":95,"y":113},{"p":6,"c":"m","x":101,"y":114},{"p":6,"c":"m","x":107,"y":114},{"p":6,"c":"m","x":91,"y":116},{"p":6,"c":"m","x":97,"y":117},{"p":6,"c":"m","x":103,"y":117},{"p":6,"c":"m","x":109,"y":118},{"p":6,"c":"m","x":88,"y":119},{"p":6,"c":"m","x":94,"y":120},{"p":6,"c":"m","x":100,"y":120},{"p":6,"c":"m","x":106,"y":121},{"p":6,"c":"m","x":112,"y":122},{"p":6,"c":"m","x":91,"y":123},{"p":6,"c":"m","x":97,"y":124},{"p":6,"c":"m","x":103,"y":124},{"p":6,"c":"m","x":109,"y":125},{"p":6,"c":"m","x":86,"y":126},{"p":6,"c":"m","x":94,"y":127},{"p":6,"c":"m","x":100,"y":128},{"p":6,"c":"m","x":106,"y":128},{"p":6,"c":"m","x":96,"y":131},{"p":6,"c":"m","x":102,"y":131},{"p":6,"c":"m","x":108,"y":131},{"p":6,"c":"m","x":99,"y":134},{"p":6,"c":"m","x":104,"y":135},{"p":6,"c":"m","x":101,"y":137},{"p":6,"c":"m","x":113,"y":127},{"p":6,"c":"m","x":85,"y":120},
{"p":6,"c":"y","x":144,"y":24},{"p":6,"c":"y","x":147,"y":26},{"p":6,"c":"y","x":141,"y":28},{"p":6,"c":"y","x":145,"y":29},{"p":6,"c":"y","x":149,"y":30},{"p":6,"c":"y","x":139,"y":32},{"p":6,"c":"y","x":143,"y":32},{"p":6,"c":"y","x":147,"y":33},{"p":6,"c":"y","x":151,"y":34},{"p":6,"c":"y","x":138,"y":36},{"p":6,"c":"y","x":142,"y":36},{"p":6,"c":"y","x":146,"y":37},{"p":6,"c":"y","x":150,"y":38},{"p":6,"c":"y","x":140,"y":40},{"p":6,"c":"y","x":144,"y":40},{"p":6,"c":"y","x":148,"y":41},{"p":6,"c":"y","x":152,"y":42},{"p":6,"c":"y","x":139,"y":44},{"p":6,"c":"y","x":143,"y":44},{"p":6,"c":"y","x":147,"y":45},{"p":6,"c":"y","x":151,"y":46},{"p":6,"c":"y","x":141,"y":48},{"p":6,"c":"y","x":145,"y":49},{"p":6,"c":"y","x":149,"y":50},{"p":6,"c":"y","x":143,"y":52},{"p":6,"c":"y","x":147,"y":53},{"p":6,"c":"y","x":145,"y":56},{"p":6,"c":"y","x":137,"y":41},{"p":6,"c":"y","x":154,"y":40},
{"p":7,"c":"r","x":110,"y":16},{"p":7,"c":"r","x":114,"y":17},{"p":7,"c":"r","x":107,"y":18},{"p":7,"c":"r","x":112,"y":19},{"p":7,"c":"r","x":117,"y":19},{"p":7,"c":"r","x":104,"y":21},{"p":7,"c":"r","x":109,"y":21},{"p":7,"c":"r","x":113,"y":22},{"p":7,"c":"r","x":118,"y":22},{"p":7,"c":"r","x":121,"y":23},{"p":7,"c":"r","x":106,"y":24},{"p":7,"c":"r","x":111,"y":24},{"p":7,"c":"r","x":115,"y":25},{"p":7,"c":"r","x":119,"y":26},{"p":7,"c":"r","x":103,"y":27},{"p":7,"c":"r","x":108,"y":27},{"p":7,"c":"r","x":112,"y":28},{"p":7,"c":"r","x":116,"y":28},{"p":7,"c":"r","x":120,"y":29},{"p":7,"c":"r","x":110,"y":30},{"p":7,"c":"r","x":114,"y":31},{"p":7,"c":"r","x":118,"y":31},{"p":7,"c":"r","x":108,"y":33},{"p":7,"c":"r","x":113,"y":34},{"p":7,"c":"r","x":122,"y":26},
{"p":7,"c":"y","x":141,"y":6},{"p":7,"c":"y","x":144,"y":7},{"p":7,"c":"y","x":139,"y":8},{"p":7,"c":"y","x":142,"y":9},{"p":7,"c":"y","x":146,"y":9},{"p":7,"c":"y","x":138,"y":11},{"p":7,"c":"y","x":141,"y":11},{"p":7,"c":"y","x":145,"y":12},{"p":7,"c":"y","x":148,"y":12},{"p":7,"c":"y","x":140,"y":14},{"p":7,"c":"y","x":143,"y":14},{"p":7,"c":"y","x":147,"y":15},{"p":7,"c":"y","x":142,"y":16},{"p":7,"c":"y","x":145,"y":17},{"p":7,"c":"y","x":149,"y":18},{"p":7,"c":"y","x":144,"y":19},
{"p":7,"c":"c","x":30,"y":16},{"p":7,"c":"c","x":25,"y":22},{"p":7,"c":"c","x":33,"y":24},{"p":7,"c":"c","x":22,"y":28},{"p":7,"c":"c","x":28,"y":29},{"p":7,"c":"c","x":35,"y":30},{"p":7,"c":"c","x":18,"y":33},{"p":7,"c":"c","x":24,"y":34},{"p":7,"c":"c","x":31,"y":35},{"p":7,"c":"c","x":14,"y":38},{"p":7,"c":"c","x":20,"y":39},{"p":7,"c":"c","x":27,"y":40},{"p":7,"c":"c","x":34,"y":41},{"p":7,"c":"c","x":16,"y":43},{"p":7,"c":"c","x":22,"y":44},{"p":7,"c":"c","x":29,"y":45},{"p":7,"c":"c","x":36,"y":46},{"p":7,"c":"c","x":19,"y":48},{"p":7,"c":"c","x":25,"y":49},{"p":7,"c":"c","x":32,"y":50},{"p":7,"c":"c","x":39,"y":51},{"p":7,"c":"c","x":23,"y":53},{"p":7,"c":"c","x":29,"y":54},{"p":7,"c":"c","x":36,"y":55},{"p":7,"c":"c","x":43,"y":56},{"p":7,"c":"c","x":27,"y":58},{"p":7,"c":"c","x":33,"y":59},{"p":7,"c":"c","x":40,"y":60},{"p":7,"c":"c","x":30,"y":63},{"p":7,"c":"c","x":37,"y":64},{"p":7,"c":"c","x":45,"y":65},{"p":7,"c":"c","x":35,"y":68},{"p":7,"c":"c","x":42,"y":70},{"p":7,"c":"c","x":40,"y":73},{"p":7,"c":"c","x":17,"y":46},{"p":7,"c":"c","x":26,"y":37},
{"p":7,"c":"g","x":36,"y":14},{"p":7,"c":"g","x":45,"y":16},{"p":7,"c":"g","x":30,"y":19},{"p":7,"c":"g","x":40,"y":20},{"p":7,"c":"g","x":49,"y":21},{"p":7,"c":"g","x":34,"y":24},{"p":7,"c":"g","x":43,"y":25},{"p":7,"c":"g","x":54,"y":25},{"p":7,"c":"g","x":29,"y":28},{"p":7,"c":"g","x":38,"y":29},{"p":7,"c":"g","x":47,"y":30},{"p":7,"c":"g","x":56,"y":31},{"p":7,"c":"g","x":33,"y":33},{"p":7,"c":"g","x":42,"y":34},{"p":7,"c":"g","x":51,"y":35},{"p":7,"c":"g","x":60,"y":36},{"p":7,"c":"g","x":28,"y":38},{"p":7,"c":"g","x":37,"y":39},{"p":7,"c":"g","x":46,"y":40},{"p":7,"c":"g","x":55,"y":41},{"p":7,"c":"g","x":64,"y":42},{"p":7,"c":"g","x":32,"y":43},{"p":7,"c":"g","x":41,"y":44},{"p":7,"c":"g","x":50,"y":45},{"p":7,"c":"g","x":59,"y":46},{"p":7,"c":"g","x":68,"y":47},{"p":7,"c":"g","x":36,"y":48},{"p":7,"c":"g","x":45,"y":49},{"p":7,"c":"g","x":54,"y":50},{"p":7,"c":"g","x":63,"y":51},{"p":7,"c":"g","x":40,"y":53},{"p":7,"c":"g","x":49,"y":54},{"p":7,"c":"g","x":58,"y":55},{"p":7,"c":"g","x":67,"y":56},{"p":7,"c":"g","x":44,"y":58},{"p":7,"c":"g","x":53,"y":59},{"p":7,"c":"g","x":62,"y":60},{"p":7,"c":"g","x":71,"y":61},{"p":7,"c":"g","x":48,"y":63},{"p":7,"c":"g","x":57,"y":64},{"p":7,"c":"g","x":66,"y":65},{"p":7,"c":"g","x":52,"y":68},{"p":7,"c":"g","x":61,"y":69},{"p":7,"c":"g","x":70,"y":70},{"p":7,"c":"g","x":56,"y":73},{"p":7,"c":"g","x":65,"y":75},{"p":7,"c":"g","x":60,"y":79},{"p":7,"c":"g","x":68,"y":81},{"p":7,"c":"g","x":63,"y":86},{"p":7,"c":"g","x":67,"y":90},{"p":7,"c":"g","x":73,"y":62},
{"p":7,"c":"b","x":19,"y":41},{"p":7,"c":"b","x":21,"y":42},{"p":7,"c":"b","x":18,"y":44},{"p":7,"c":"b","x":20,"y":45},{"p":7,"c":"b","x":22,"y":46},{"p":7,"c":"b","x":19,"y":47},{"p":7,"c":"b","x":21,"y":48},{"p":7,"c":"b","x":20,"y":50},{"p":7,"c":"b","x":18,"y":49},{"p":7,"c":"b","x":23,"y":44},
{"p":7,"c":"m","x":104,"y":81},{"p":7,"c":"m","x":96,"y":88},{"p":7,"c":"m","x":112,"y":90},{"p":7,"c":"m","x":120,"y":86},{"p":7,"c":"m","x":90,"y":95},{"p":7,"c":"m","x":102,"y":96},{"p":7,"c":"m","x":115,"y":97},{"p":7,"c":"m","x":128,"y":94},{"p":7,"c":"m","x":96,"y":102},{"p":7,"c":"m","x":108,"y":103},{"p":7,"c":"m","x":121,"y":104},{"p":7,"c":"m","x":134,"y":103},{"p":7,"c":"m","x":88,"y":108},{"p":7,"c":"m","x":101,"y":109},{"p":7,"c":"m","x":113,"y":110},{"p":7,"c":"m","x":126,"y":110},{"p":7,"c":"m","x":140,"y":108},{"p":7,"c":"m","x":95,"y":115},{"p":7,"c":"m","x":107,"y":116},{"p":7,"c":"m","x":118,"y":117},{"p":7,"c":"m","x":130,"y":116},{"p":7,"c":"m","x":143,"y":115},{"p":7,"c":"m","x":100,"y":121},{"p":7,"c":"m","x":111,"y":122},{"p":7,"c":"m","x":120,"y":122},{"p":7,"c":"m","x":127,"y":121},{"p":7,"c":"m","x":136,"y":120},{"p":7,"c":"m","x":104,"y":126},{"p":7,"c":"m","x":113,"y":127},{"p":7,"c":"m","x":118,"y":126},{"p":7,"c":"m","x":124,"y":128},{"p":7,"c":"m","x":131,"y":127},{"p":7,"c":"m","x":139,"y":125},{"p":7,"c":"m","x":108,"y":131},{"p":7,"c":"m","x":115,"y":132},{"p":7,"c":"m","x":121,"y":131},{"p":7,"c":"m","x":128,"y":133},{"p":7,"c":"m","x":134,"y":130},{"p":7,"c":"m","x":111,"y":136},{"p":7,"c":"m","x":118,"y":137},{"p":7,"c":"m","x":124,"y":136},{"p":7,"c":"m","x":130,"y":137},{"p":7,"c":"m","x":114,"y":141},{"p":7,"c":"m","x":120,"y":142},{"p":7,"c":"m","x":126,"y":140},{"p":7,"c":"m","x":117,"y":146},{"p":7,"c":"m","x":122,"y":145},{"p":7,"c":"m","x":145,"y":122},{"p":7,"c":"m","x":93,"y":124},{"p":7,"c":"m","x":106,"y":140},
{"p":8,"c":"g","x":71,"y":18},{"p":8,"c":"g","x":73,"y":18},{"p":8,"c":"g","x":72,"y":19},{"p":8,"c":"g","x":74,"y":19},
{"p":8,"c":"y","x":71,"y":19},{"p":8,"c":"y","x":73,"y":20},{"p":8,"c":"y","x":70,"y":21},{"p":8,"c":"y","x":72,"y":22},{"p":8,"c":"y","x":74,"y":22},{"p":8,"c":"y","x":71,"y":23},{"p":8,"c":"y","x":73,"y":24},{"p":8,"c":"y","x":70,"y":24},{"p":8,"c":"y","x":72,"y":25},
{"p":8,"c":"r","x":73,"y":25},{"p":8,"c":"r","x":75,"y":26},{"p":8,"c":"r","x":72,"y":27},{"p":8,"c":"r","x":74,"y":28},{"p":8,"c":"r","x":76,"y":28},{"p":8,"c":"r","x":73,"y":29},{"p":8,"c":"r","x":75,"y":30},{"p":8,"c":"r","x":72,"y":30},{"p":8,"c":"r","x":74,"y":31},{"p":8,"c":"r","x":73,"y":32},
{"p":8,"c":"c","x":80,"y":24},{"p":8,"c":"c","x":82,"y":25},{"p":8,"c":"c","x":79,"y":26},{"p":8,"c":"c","x":81,"y":27},{"p":8,"c":"c","x":83,"y":28},{"p":8,"c":"c","x":80,"y":29},{"p":8,"c":"c","x":82,"y":30},{"p":8,"c":"c","x":79,"y":30},{"p":8,"c":"c","x":81,"y":31},{"p":8,"c":"c","x":80,"y":32},
{"p":8,"c":"b","x":136,"y":86},{"p":8,"c":"b","x":137,"y":87},{"p":8,"c":"b","x":138,"y":88},{"p":8,"c":"b","x":137,"y":89},{"p":8,"c":"b","x":139,"y":89},{"p":8,"c":"b","x":139,"y":91},{"p":8,"c":"b","x":140,"y":90},{"p":8,"c":"b","x":141,"y":92},{"p":8,"c":"b","x":142,"y":93},{"p":8,"c":"b","x":141,"y":94},{"p":8,"c":"b","x":143,"y":95},{"p":8,"c":"b","x":138,"y":86},
{"p":8,"c":"m","x":31,"y":113},{"p":8,"c":"m","x":33,"y":114},{"p":8,"c":"m","x":32,"y":115},{"p":8,"c":"m","x":34,"y":115},{"p":8,"c":"m","x":35,"y":116},{"p":8,"c":"m","x":34,"y":117},{"p":8,"c":"m","x":36,"y":117},{"p":8,"c":"m","x":37,"y":118},{"p":8,"c":"m","x":36,"y":119},{"p":8,"c":"m","x":33,"y":116},
{"p":1,"t":"o","x":70,"y":50},{"p":2,"t":"o","x":47,"y":4},{"p":3,"t":"o","x":74,"y":46},{"p":4,"t":"o","x":63,"y":77},{"p":5,"t":"o","x":61,"y":111},{"p":6,"t":"o","x":40,"y":47},{"p":7,"t":"o","x":59,"y":122},{"p":8,"t":"o","x":97,"y":47}
]},
"transform":[{"lookup":"p","from":{"data":{"name":"names"},"key":"p","fields":["n"]}}],
"columns":4,
"spacing":{"row":70,"column":49.2},
"facet":{"field":"n","type":"nominal","sort":["Free−tailed bat","Hyrax","Bengalese finch","Chickadee","Pilot whale","Orangutan","Orca","English"],"title":null,
 "header":{"labels":false,"title":null,"labelFontSize":0,"labelPadding":0,"labelColor":"transparent","labelExpr":"''"}},
"spec":{
 "width":157,"height":155,
 "layer":[
  {"transform":[{"filter":"datum.t=='b'"}],
   "mark":{"type":"rect"},
   "encoding":{
    "x":{"datum":0,"type":"quantitative","scale":{"domain":[0,157],"nice":false,"zero":false},"axis":null},
    "x2":{"datum":157},
    "y":{"datum":0,"type":"quantitative","scale":{"domain":[0,155],"nice":false,"zero":false,"reverse":true},"axis":null},
    "y2":{"datum":155},
    "fill":{"field":"c","type":"nominal","scale":{"domain":["r","g","b","c","m","y"],"range":["#F4BBBB","#BCF4BC","#BCBCF4","#BCF7F7","#F7BCF7","#BEBEBE"]},"legend":null}}},
  {"transform":[{"filter":"isValid(datum.r)"}],
   "mark":{"type":"area","orient":"horizontal","clip":true,"interpolate":"linear"},
   "encoding":{
    "y":{"field":"y","type":"quantitative"},
    "x":{"field":"x","type":"quantitative","stack":null},
    "x2":{"field":"x2"},
    "detail":{"field":"r","type":"nominal"},
    "fill":{"field":"c","type":"nominal","legend":null}}},
  {"transform":[{"filter":"!isValid(datum.r) && !isValid(datum.t)"}],
   "mark":{"type":"square","size":7,"opacity":1},
   "encoding":{
    "x":{"field":"x","type":"quantitative"},
    "y":{"field":"y","type":"quantitative"},
    "color":{"field":"c","type":"nominal","scale":{"domain":["r","g","b","c","m","y"],"range":["#FF0000","#00FF00","#0000FF","#00FFFF","#FF00FF","#FFFF00"]},"legend":null}}},
  {"transform":[{"filter":"datum.t=='o'"}],
   "mark":{"type":"point","shape":"circle","filled":false,"stroke":"#000","strokeWidth":1.8,"size":24,"opacity":1},
   "encoding":{
    "x":{"field":"x","type":"quantitative"},
    "y":{"field":"y","type":"quantitative"}}},
  {"transform":[{"filter":"datum.t=='b'"}],
   "mark":{"type":"text","font":"Liberation Sans","fontSize":21,"baseline":"alphabetic","align":"center","color":"#000"},
   "encoding":{
    "x":{"datum":78.5,"type":"quantitative"},
    "y":{"datum":-10,"type":"quantitative"},
    "text":{"field":"n","type":"nominal"}}}
 ]
},
"config":{"view":{"stroke":"#666","strokeWidth":1},"header":{"labels":false,"labelFontSize":0,"labelPadding":0,"labelColor":"transparent"},"headerFacet":{"labels":false,"labelFontSize":0,"labelPadding":0,"labelColor":"transparent"}}
}
